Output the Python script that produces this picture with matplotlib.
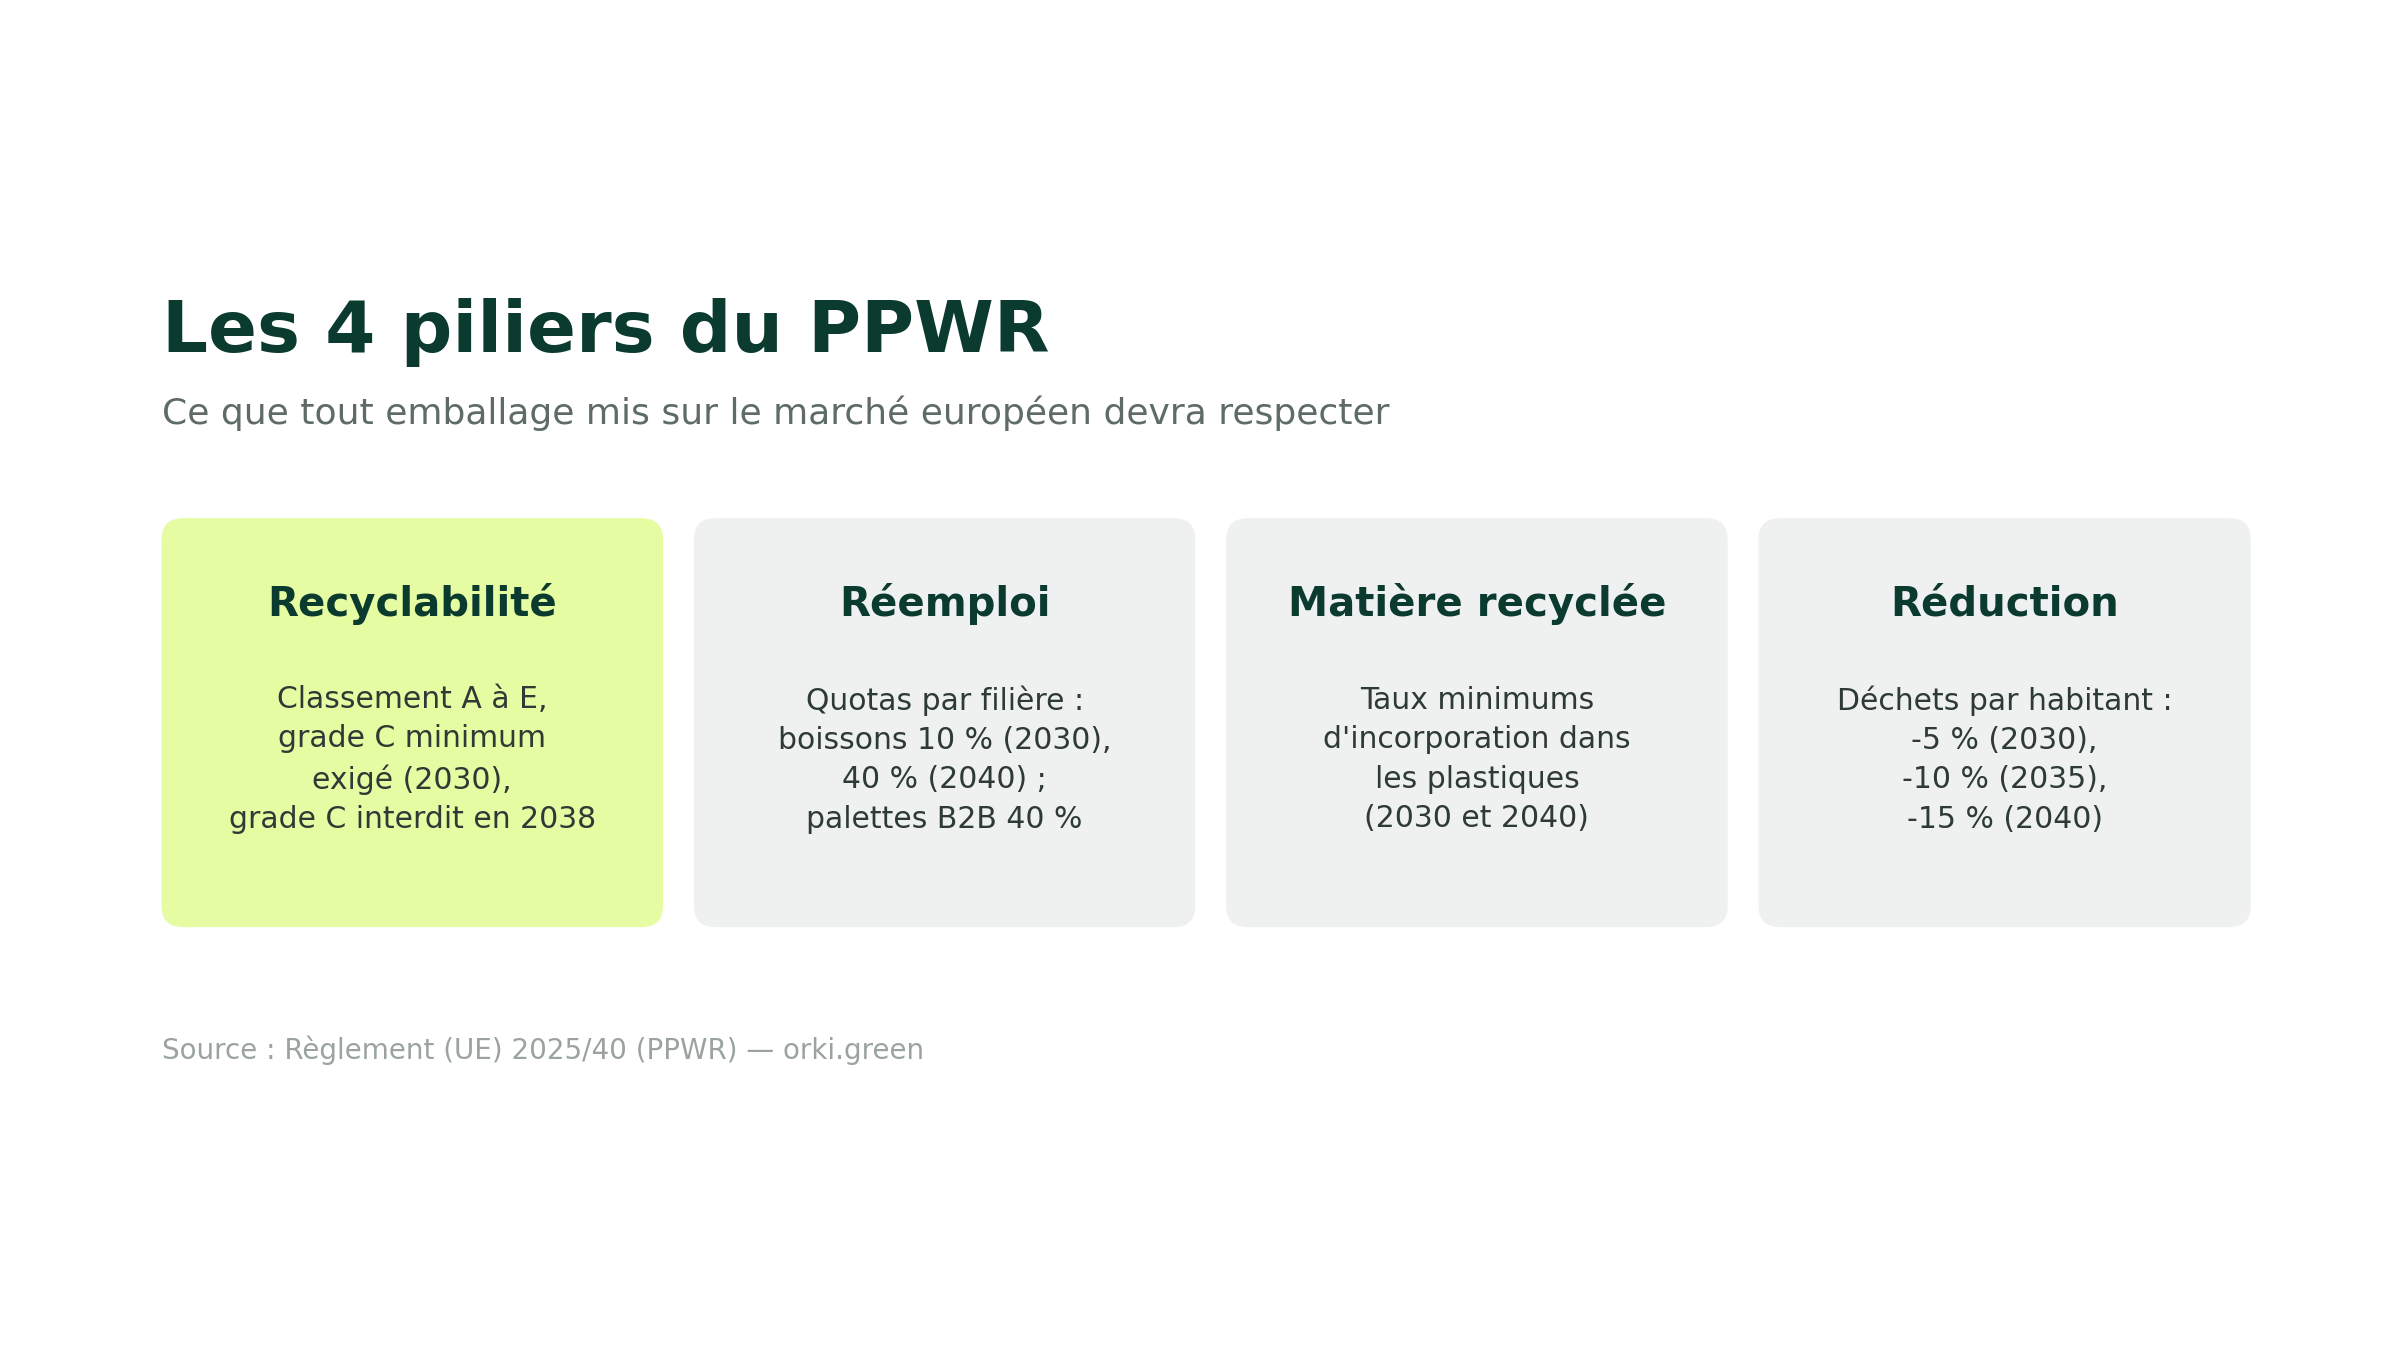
import matplotlib
matplotlib.use("Agg")
import matplotlib.pyplot as plt
from matplotlib.patches import FancyBboxPatch

title = "Les 4 piliers du PPWR"
subtitle = "Ce que tout emballage mis sur le marché européen devra respecter"
headings = ["Recyclabilité", "Réemploi", "Matière recyclée", "Réduction"]
bodies = [
    "Classement A à E,\ngrade C minimum\nexigé (2030),\ngrade C interdit en 2038",
    "Quotas par filière :\nboissons 10 % (2030),\n40 % (2040) ;\npalettes B2B 40 %",
    "Taux minimums\nd'incorporation dans\nles plastiques\n(2030 et 2040)",
    "Déchets par habitant :\n-5 % (2030),\n-10 % (2035),\n-15 % (2040)",
]
source = "Source : Règlement (UE) 2025/40 (PPWR) — orki.green"

W, H = 1560, 878
fig = plt.figure(figsize=(24, 13.5), dpi=100)
fig.patch.set_facecolor("white")
ax = fig.add_axes([0, 0, 1, 1])
ax.set_xlim(0, W); ax.set_ylim(H, 0); ax.axis("off")

dark = "#0b3b2e"
ax.text(105, 216, title, fontsize=52, fontweight="bold", color=dark, va="center", ha="left")
ax.text(105, 269, subtitle, fontsize=26, color="#5f6b66", va="center", ha="left")

xs = [(105, 431), (451, 777), (797, 1123), (1143, 1463)]
fills = ["#e5fca3", "#eff1f0", "#eff1f0", "#eff1f0"]
for (x0, x1), f, h, b in zip(xs, fills, headings, bodies):
    ax.add_patch(FancyBboxPatch((x0 + 14, 337 + 14), x1 - x0 - 28, 266 - 28,
                                boxstyle="round,pad=14", fc=f, ec="none"))
    cx = (x0 + x1) / 2
    ax.text(cx, 393, h, fontsize=29, fontweight="bold", color=dark, ha="center", va="center")
    ax.text(cx, 494, b, fontsize=21.5, color="#2d3a35", ha="center", va="center", linespacing=1.45)

ax.text(105, 683, source, fontsize=20, color="#9aa3a0", ha="left", va="center")
fig.savefig("out.png", dpi=100, facecolor="white")
